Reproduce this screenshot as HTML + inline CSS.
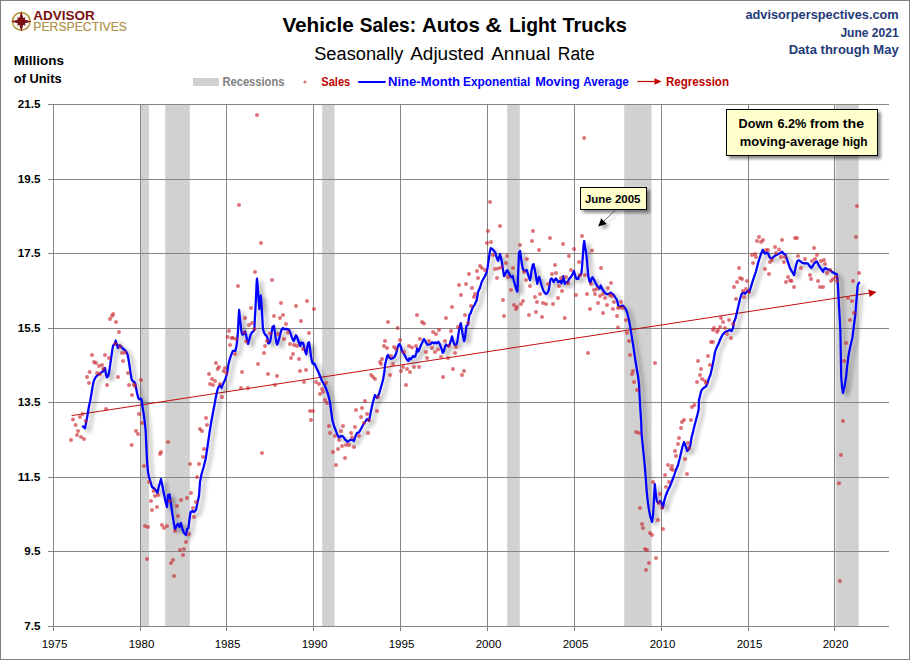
<!DOCTYPE html>
<html lang="en"><head><meta charset="utf-8"><title>Vehicle Sales: Autos &amp; Light Trucks</title>
<style>html,body{margin:0;padding:0;background:#fff}body{width:910px;height:660px;overflow:hidden}svg{display:block}text{font-family:"Liberation Sans",sans-serif;stroke-linejoin:round}</style></head><body>
<svg width="910" height="660" viewBox="0 0 910 660">
<defs><filter id="sh" x="-5%" y="-5%" width="112%" height="118%"><feGaussianBlur in="SourceAlpha" stdDeviation="2.1"/><feOffset dx="3.6" dy="2.6"/><feComponentTransfer><feFuncA type="linear" slope="0.37"/></feComponentTransfer><feMerge><feMergeNode/><feMergeNode in="SourceGraphic"/></feMerge></filter>
<filter id="bsh" x="-10%" y="-20%" width="125%" height="150%"><feGaussianBlur in="SourceAlpha" stdDeviation="1.8"/><feOffset dx="2.5" dy="2.5"/><feComponentTransfer><feFuncA type="linear" slope="0.44"/></feComponentTransfer><feMerge><feMergeNode/><feMergeNode in="SourceGraphic"/></feMerge></filter><filter id="ash" x="-30%" y="-30%" width="180%" height="180%"><feGaussianBlur in="SourceAlpha" stdDeviation="1.6"/><feOffset dx="2.5" dy="2.5"/><feComponentTransfer><feFuncA type="linear" slope="0.35"/></feComponentTransfer><feMerge><feMergeNode/><feMergeNode in="SourceGraphic"/></feMerge></filter></defs>
<rect x="0" y="0" width="910" height="660" fill="#fff"/>
<rect x="0.5" y="0.5" width="909" height="659" fill="none" stroke="#808080" stroke-width="1"/>
<g fill="#d1d1d1">
<rect x="141.0" y="105" width="8.0" height="521"/>
<rect x="165.2" y="105" width="24.6" height="521"/>
<rect x="322.2" y="105" width="12.4" height="521"/>
<rect x="507.2" y="105" width="12.6" height="521"/>
<rect x="624.2" y="105" width="27.4" height="521"/>
<rect x="835.6" y="105" width="23.1" height="521"/>
</g>
<g stroke="#868686" stroke-width="1" shape-rendering="crispEdges">
<line x1="48" x2="889" y1="104.5" y2="104.5"/>
<line x1="48" x2="889" y1="179.5" y2="179.5"/>
<line x1="48" x2="889" y1="253.5" y2="253.5"/>
<line x1="48" x2="889" y1="328.5" y2="328.5"/>
<line x1="48" x2="889" y1="402.5" y2="402.5"/>
<line x1="48" x2="889" y1="477.5" y2="477.5"/>
<line x1="48" x2="889" y1="551.5" y2="551.5"/>
<line x1="48" x2="889" y1="626.5" y2="626.5"/>
<line x1="53.5" x2="53.5" y1="104" y2="631"/>
<line x1="140.5" x2="140.5" y1="104" y2="631"/>
<line x1="226.5" x2="226.5" y1="104" y2="631"/>
<line x1="313.5" x2="313.5" y1="104" y2="631"/>
<line x1="400.5" x2="400.5" y1="104" y2="631"/>
<line x1="487.5" x2="487.5" y1="104" y2="631"/>
<line x1="574.5" x2="574.5" y1="104" y2="631"/>
<line x1="661.5" x2="661.5" y1="104" y2="631"/>
<line x1="748.5" x2="748.5" y1="104" y2="631"/>
<line x1="834.5" x2="834.5" y1="104" y2="631"/>
</g>
<line x1="71.6" y1="415.6" x2="869" y2="293.1" stroke="#c00000" stroke-width="0.95"/>
<path d="M876.5 292 L868.3 289.4 L869.7 297Z" fill="#c00000"/>
<path d="M83.0 426.4 L85.0 428.4 L87.0 418.0 L89.0 406.0 L90.4 400.1 L91.5 393.2 L92.6 386.6 L93.7 381.1 L95.2 377.9 L96.5 376.2 L98.1 374.8 L99.8 373.7 L101.4 372.4 L103.1 371.3 L104.4 368.0 L105.0 368.0 L105.8 373.5 L106.9 377.3 L108.0 376.2 L109.1 372.4 L110.2 364.7 L111.3 357.0 L112.4 349.3 L113.2 345.4 L114.6 344.3 L115.7 340.5 L116.8 344.3 L117.9 348.0 L119.0 345.4 L120.1 345.4 L121.5 346.9 L122.9 348.7 L124.5 349.8 L126.2 351.5 L127.5 354.2 L128.3 358.1 L129.2 363.6 L130.0 369.1 L130.8 374.6 L131.7 379.5 L132.8 381.1 L134.1 382.0 L135.2 383.4 L136.0 387.8 L137.1 393.2 L138.2 397.6 L139.3 399.3 L141.0 398.7 L141.8 400.1 L142.4 406.0 L144.0 416.0 L145.6 430.0 L147.0 460.0 L148.0 472.0 L149.0 477.0 L150.6 482.0 L152.0 487.0 L153.6 488.0 L155.6 490.0 L157.4 493.0 L159.0 486.0 L161.0 479.0 L162.4 486.0 L164.0 494.0 L165.6 502.0 L167.0 507.0 L168.0 495.0 L169.6 494.4 L171.0 504.0 L172.4 514.0 L174.0 524.0 L175.0 529.6 L176.4 526.0 L178.0 523.6 L179.4 527.0 L181.0 523.0 L182.4 529.0 L184.0 533.0 L186.0 535.0 L187.0 529.0 L188.4 528.0 L189.4 520.0 L190.6 512.0 L192.4 511.0 L194.0 512.0 L196.0 510.0 L197.4 503.0 L199.0 496.0 L200.0 482.0 L201.6 474.0 L203.6 467.0 L205.6 459.0 L207.6 446.0 L209.6 432.0 L211.6 420.0 L215.0 402.0 L216.4 394.0 L218.0 388.0 L220.0 385.0 L221.6 388.0 L223.0 384.0 L225.0 380.0 L227.0 374.0 L228.3 365.1 L229.4 360.4 L231.0 355.5 L232.7 351.1 L234.3 350.6 L235.4 351.1 L236.5 346.1 L237.3 339.6 L238.0 330.8 L238.5 319.8 L239.1 309.9 L239.8 316.5 L240.6 324.2 L241.5 331.9 L242.4 334.6 L243.7 334.1 L245.0 331.3 L246.1 335.2 L247.2 340.7 L248.1 344.0 L249.2 339.6 L250.5 335.2 L251.9 332.4 L253.3 331.3 L254.4 329.7 L254.7 321.6 L255.4 309.6 L256.1 295.3 L256.6 283.2 L257.0 278.6 L257.8 287.6 L258.5 298.6 L259.3 309.0 L260.2 303.0 L260.8 295.5 L261.5 303.0 L262.1 314.0 L262.6 322.8 L262.9 328.6 L264.0 332.4 L265.1 334.6 L266.5 335.7 L267.6 338.5 L268.1 343.4 L269.0 343.4 L270.1 341.8 L270.9 337.4 L271.7 331.9 L272.5 326.9 L273.9 325.8 L274.7 330.8 L275.6 337.4 L276.4 342.3 L277.2 344.5 L278.3 341.8 L279.4 337.4 L280.5 333.0 L281.6 329.7 L283.0 328.0 L284.3 329.1 L286.0 328.8 L287.6 329.1 L289.3 330.2 L290.4 333.0 L291.5 336.3 L292.6 339.0 L293.7 341.2 L294.8 338.5 L295.9 335.4 L297.0 336.8 L298.1 340.1 L299.2 343.4 L300.3 346.1 L301.0 342.3 L302.1 343.4 L303.2 342.9 L304.1 347.2 L305.2 351.6 L306.3 354.4 L307.2 348.4 L308.0 343.4 L309.1 342.3 L309.8 347.2 L310.7 353.9 L311.6 359.9 L312.7 363.7 L314.0 363.2 L315.3 365.1 L316.0 367.0 L318.4 372.0 L320.0 376.0 L322.0 381.0 L325.0 386.0 L328.0 394.0 L330.0 402.0 L331.0 410.0 L332.4 420.0 L334.0 426.0 L335.6 430.0 L337.0 434.0 L339.0 437.6 L341.0 436.0 L343.0 436.4 L345.0 439.4 L347.6 442.0 L350.0 440.0 L352.0 439.6 L354.0 441.0 L355.6 436.0 L357.0 433.0 L359.0 432.4 L361.0 429.0 L363.0 425.0 L365.0 422.0 L367.0 419.0 L369.0 421.0 L370.0 416.0 L371.6 408.0 L373.0 402.0 L375.0 395.0 L377.0 398.0 L379.0 394.0 L381.0 387.0 L383.0 380.0 L384.4 372.0 L385.0 365.1 L386.1 360.4 L387.2 356.0 L388.1 354.9 L389.4 357.7 L391.0 358.8 L392.7 358.2 L394.3 357.1 L396.0 353.9 L397.1 349.4 L398.2 345.6 L399.5 344.0 L400.6 346.1 L401.7 350.0 L403.1 352.8 L404.6 354.9 L405.9 357.7 L407.2 359.9 L408.3 361.0 L409.4 358.2 L410.8 359.3 L411.9 357.7 L413.0 356.0 L414.1 357.1 L415.2 356.6 L416.3 352.8 L417.1 348.4 L418.0 351.6 L419.1 350.0 L420.4 346.7 L421.8 343.4 L422.9 341.2 L424.0 339.0 L425.1 340.7 L426.2 342.9 L427.3 344.5 L429.0 344.5 L430.6 344.0 L432.2 342.3 L433.9 343.4 L435.3 342.3 L436.6 343.4 L438.3 341.8 L439.4 343.4 L440.5 346.1 L441.6 348.9 L442.7 352.8 L443.8 351.6 L444.9 347.2 L446.0 344.5 L447.1 345.6 L448.5 346.1 L449.8 344.0 L450.9 340.7 L452.0 336.3 L452.9 339.6 L454.0 344.0 L455.3 345.1 L456.6 344.0 L457.5 340.7 L458.4 334.1 L459.5 327.5 L460.8 323.1 L461.7 328.6 L462.8 335.2 L464.1 341.2 L465.0 337.4 L465.8 331.3 L466.5 325.8 L468.0 324.7 L468.7 319.2 L469.4 314.8 L470.7 313.2 L471.8 309.9 L472.9 307.1 L474.6 304.9 L475.7 302.2 L476.8 300.0 L478.0 292.0 L480.0 287.8 L481.6 282.2 L483.3 279.0 L484.9 276.2 L486.4 272.9 L487.5 268.0 L488.6 260.3 L489.7 252.6 L490.8 248.2 L492.1 248.7 L493.7 250.4 L495.2 252.6 L496.5 257.0 L498.1 260.8 L499.2 257.0 L500.0 254.2 L501.1 258.1 L502.2 264.1 L503.1 270.2 L504.0 276.2 L505.1 274.6 L506.4 271.3 L507.5 270.2 L508.8 272.9 L510.2 276.2 L511.3 277.3 L512.6 275.9 L513.9 281.1 L515.2 285.6 L516.5 289.9 L517.4 291.6 L517.9 279.0 L518.5 264.7 L519.0 252.6 L520.1 250.9 L520.9 257.0 L521.8 263.6 L522.9 269.1 L524.0 270.7 L525.3 271.0 L526.7 269.9 L527.8 273.5 L528.9 277.3 L530.0 280.1 L530.8 276.8 L531.6 270.2 L532.8 264.7 L533.5 264.1 L534.4 268.0 L535.5 273.5 L536.6 280.1 L537.4 283.9 L538.2 279.0 L539.1 276.8 L540.2 280.1 L541.3 284.4 L542.4 287.8 L543.5 291.0 L544.8 292.7 L545.9 294.1 L547.2 293.2 L548.7 290.5 L549.5 285.6 L550.3 280.1 L551.4 278.4 L552.5 279.5 L553.6 282.2 L554.7 280.1 L555.8 278.4 L556.9 279.8 L558.2 282.2 L559.3 281.7 L560.4 280.6 L561.5 283.4 L562.4 280.1 L563.2 276.2 L564.1 280.1 L564.8 283.9 L565.9 282.2 L567.4 282.8 L568.5 280.1 L569.6 278.4 L570.7 277.3 L571.8 275.7 L572.9 273.5 L574.0 271.0 L574.7 273.5 L575.6 277.3 L576.7 279.0 L578.4 278.7 L578.7 276.7 L580.2 275.1 L581.3 274.0 L582.0 267.4 L582.8 256.4 L583.5 246.5 L584.2 241.0 L585.0 246.5 L585.9 251.4 L586.8 258.6 L587.5 267.4 L588.3 276.1 L589.4 281.1 L590.5 282.8 L591.6 278.4 L592.5 277.2 L593.8 279.4 L595.2 282.2 L596.6 284.9 L598.0 287.1 L599.6 288.8 L600.7 285.5 L601.8 288.2 L603.5 291.0 L605.1 293.2 L607.3 294.3 L609.0 293.7 L610.6 292.6 L612.2 293.7 L613.9 295.1 L615.0 297.0 L617.0 300.0 L618.4 306.0 L620.4 306.4 L623.0 305.6 L625.0 308.0 L627.0 312.0 L629.0 320.0 L630.4 328.0 L632.0 338.0 L633.6 348.0 L635.0 358.0 L636.6 368.0 L638.0 376.0 L639.0 384.0 L639.6 396.0 L640.4 410.0 L641.2 422.0 L641.6 434.0 L643.0 448.0 L644.4 462.0 L645.6 476.0 L646.6 490.0 L647.6 500.0 L649.0 510.0 L650.4 517.0 L652.0 522.0 L653.2 514.0 L654.0 498.0 L654.8 484.0 L655.6 492.0 L656.8 501.0 L658.0 503.0 L660.0 501.0 L661.6 503.0 L662.8 508.0 L664.0 502.0 L665.6 496.0 L667.6 491.0 L669.6 487.0 L671.6 482.0 L673.6 477.0 L676.0 470.0 L678.0 465.0 L679.6 459.0 L681.0 453.0 L682.4 447.0 L684.0 442.0 L685.6 446.0 L687.2 451.0 L689.0 449.0 L690.4 445.0 L691.6 437.0 L693.0 432.0 L694.4 426.0 L696.0 420.0 L697.6 414.0 L698.6 410.0 L699.0 400.0 L700.4 394.0 L701.6 390.0 L703.6 388.0 L706.0 386.4 L707.6 383.0 L709.0 378.0 L710.4 375.0 L712.0 368.0 L713.6 360.0 L715.0 352.0 L716.4 348.0 L718.4 344.0 L720.4 339.0 L722.4 335.0 L725.0 332.0 L727.6 331.0 L729.6 330.0 L731.6 331.0 L733.0 328.0 L734.0 322.0 L735.6 318.0 L737.0 312.0 L738.4 306.0 L740.0 299.0 L741.6 294.0 L743.6 292.4 L745.0 293.8 L746.6 292.1 L748.1 290.5 L749.4 292.1 L751.0 286.6 L752.7 281.1 L754.3 276.2 L756.0 271.3 L757.1 266.9 L758.4 261.9 L759.8 257.5 L761.3 253.1 L762.8 249.8 L763.9 252.0 L765.1 253.7 L766.4 252.6 L767.9 253.1 L769.2 256.4 L770.8 258.6 L772.5 258.1 L774.1 256.4 L775.8 255.3 L778.0 254.2 L780.2 253.1 L782.1 251.7 L783.5 253.7 L785.1 254.2 L786.2 257.0 L787.9 261.9 L789.5 266.9 L791.1 270.2 L792.8 272.9 L794.1 275.1 L795.0 270.2 L796.1 265.2 L797.5 260.8 L798.9 260.3 L800.5 261.4 L802.1 262.7 L804.3 263.4 L806.5 263.2 L808.2 263.8 L809.8 266.3 L811.3 268.0 L812.6 266.3 L814.2 263.4 L815.9 261.9 L817.0 261.4 L818.1 264.1 L819.7 266.9 L821.4 269.1 L823.0 271.8 L824.1 269.1 L825.4 268.0 L826.9 269.1 L828.5 269.6 L830.2 269.9 L831.8 271.8 L833.5 272.9 L835.1 273.5 L836.8 274.3 L837.5 279.0 L838.0 286.6 L838.4 294.3 L838.7 300.1 L839.6 316.0 L840.4 332.0 L841.2 376.0 L842.0 387.0 L843.0 393.0 L844.4 387.0 L846.0 378.0 L847.2 366.0 L848.6 355.0 L850.4 346.0 L852.4 338.0 L853.6 328.0 L854.6 320.0 L855.2 316.0 L856.0 306.0 L856.8 296.0 L857.6 286.0 L858.4 283.6 L859.2 282.6" fill="none" stroke="#0000ff" stroke-width="2.25" stroke-linejoin="round" stroke-linecap="round" filter="url(#sh)"/>
<g fill="#c81e28" fill-opacity="0.62">
<circle cx="73.0" cy="419.6" r="2"/>
<circle cx="75.6" cy="425.0" r="2"/>
<circle cx="80.0" cy="417.0" r="2"/>
<circle cx="82.6" cy="414.0" r="2"/>
<circle cx="85.6" cy="421.0" r="2"/>
<circle cx="78.0" cy="431.0" r="2"/>
<circle cx="87.0" cy="377.0" r="2"/>
<circle cx="89.0" cy="383.0" r="2"/>
<circle cx="89.6" cy="372.0" r="2"/>
<circle cx="92.0" cy="355.0" r="2"/>
<circle cx="94.0" cy="362.0" r="2"/>
<circle cx="96.0" cy="363.0" r="2"/>
<circle cx="97.0" cy="373.0" r="2"/>
<circle cx="99.0" cy="366.0" r="2"/>
<circle cx="100.0" cy="374.0" r="2"/>
<circle cx="102.0" cy="365.0" r="2"/>
<circle cx="105.0" cy="355.0" r="2"/>
<circle cx="107.0" cy="385.0" r="2"/>
<circle cx="109.0" cy="358.0" r="2"/>
<circle cx="106.0" cy="409.0" r="2"/>
<circle cx="110.0" cy="319.0" r="2"/>
<circle cx="112.0" cy="316.0" r="2"/>
<circle cx="113.2" cy="314.0" r="2"/>
<circle cx="116.0" cy="322.0" r="2"/>
<circle cx="119.0" cy="332.0" r="2"/>
<circle cx="118.0" cy="377.0" r="2"/>
<circle cx="120.0" cy="346.4" r="2"/>
<circle cx="122.0" cy="353.0" r="2"/>
<circle cx="123.0" cy="361.0" r="2"/>
<circle cx="125.0" cy="352.4" r="2"/>
<circle cx="128.0" cy="373.0" r="2"/>
<circle cx="129.0" cy="385.0" r="2"/>
<circle cx="132.0" cy="395.0" r="2"/>
<circle cx="135.0" cy="386.0" r="2"/>
<circle cx="139.0" cy="414.0" r="2"/>
<circle cx="141.0" cy="380.0" r="2"/>
<circle cx="142.0" cy="423.0" r="2"/>
<circle cx="136.0" cy="431.0" r="2"/>
<circle cx="200.0" cy="429.0" r="2"/>
<circle cx="206.0" cy="418.0" r="2"/>
<circle cx="207.0" cy="425.0" r="2"/>
<circle cx="209.0" cy="374.0" r="2"/>
<circle cx="210.0" cy="384.0" r="2"/>
<circle cx="212.0" cy="379.0" r="2"/>
<circle cx="213.0" cy="385.0" r="2"/>
<circle cx="215.0" cy="381.0" r="2"/>
<circle cx="216.0" cy="363.0" r="2"/>
<circle cx="217.6" cy="369.0" r="2"/>
<circle cx="219.0" cy="367.0" r="2"/>
<circle cx="220.0" cy="384.0" r="2"/>
<circle cx="222.0" cy="397.0" r="2"/>
<circle cx="223.6" cy="371.0" r="2"/>
<circle cx="225.0" cy="368.0" r="2"/>
<circle cx="226.4" cy="373.0" r="2"/>
<circle cx="227.6" cy="337.0" r="2"/>
<circle cx="229.0" cy="331.0" r="2"/>
<circle cx="230.0" cy="345.0" r="2"/>
<circle cx="231.6" cy="338.0" r="2"/>
<circle cx="138.0" cy="434.0" r="2"/>
<circle cx="131.6" cy="445.0" r="2"/>
<circle cx="144.0" cy="466.0" r="2"/>
<circle cx="149.0" cy="482.0" r="2"/>
<circle cx="153.6" cy="491.0" r="2"/>
<circle cx="155.0" cy="496.0" r="2"/>
<circle cx="158.0" cy="495.0" r="2"/>
<circle cx="151.0" cy="501.0" r="2"/>
<circle cx="157.0" cy="507.0" r="2"/>
<circle cx="152.0" cy="510.0" r="2"/>
<circle cx="145.0" cy="526.0" r="2"/>
<circle cx="148.0" cy="527.0" r="2"/>
<circle cx="162.0" cy="525.0" r="2"/>
<circle cx="164.0" cy="528.0" r="2"/>
<circle cx="167.0" cy="526.0" r="2"/>
<circle cx="160.0" cy="454.0" r="2"/>
<circle cx="161.0" cy="452.0" r="2"/>
<circle cx="168.0" cy="442.0" r="2"/>
<circle cx="170.0" cy="501.0" r="2"/>
<circle cx="177.0" cy="506.0" r="2"/>
<circle cx="181.0" cy="500.0" r="2"/>
<circle cx="187.0" cy="498.0" r="2"/>
<circle cx="191.0" cy="493.0" r="2"/>
<circle cx="178.0" cy="516.0" r="2"/>
<circle cx="175.0" cy="531.0" r="2"/>
<circle cx="189.0" cy="534.0" r="2"/>
<circle cx="186.0" cy="542.0" r="2"/>
<circle cx="180.0" cy="550.0" r="2"/>
<circle cx="184.0" cy="549.0" r="2"/>
<circle cx="190.0" cy="464.0" r="2"/>
<circle cx="199.0" cy="464.0" r="2"/>
<circle cx="197.0" cy="477.0" r="2"/>
<circle cx="196.0" cy="502.0" r="2"/>
<circle cx="193.0" cy="508.0" r="2"/>
<circle cx="194.0" cy="517.0" r="2"/>
<circle cx="203.0" cy="457.0" r="2"/>
<circle cx="204.0" cy="449.0" r="2"/>
<circle cx="202.0" cy="431.0" r="2"/>
<circle cx="262.0" cy="453.0" r="2"/>
<circle cx="311.0" cy="420.0" r="2"/>
<circle cx="147.0" cy="559.0" r="2"/>
<circle cx="171.0" cy="563.0" r="2"/>
<circle cx="173.0" cy="560.0" r="2"/>
<circle cx="174.0" cy="576.0" r="2"/>
<circle cx="183.0" cy="555.0" r="2"/>
<circle cx="255.0" cy="272.0" r="2"/>
<circle cx="272.0" cy="280.0" r="2"/>
<circle cx="238.0" cy="286.0" r="2"/>
<circle cx="251.0" cy="308.0" r="2"/>
<circle cx="245.0" cy="318.0" r="2"/>
<circle cx="249.0" cy="325.0" r="2"/>
<circle cx="252.0" cy="323.0" r="2"/>
<circle cx="254.4" cy="329.0" r="2"/>
<circle cx="233.0" cy="338.0" r="2"/>
<circle cx="236.0" cy="339.0" r="2"/>
<circle cx="235.0" cy="354.0" r="2"/>
<circle cx="241.0" cy="388.0" r="2"/>
<circle cx="248.0" cy="388.0" r="2"/>
<circle cx="242.0" cy="372.0" r="2"/>
<circle cx="258.0" cy="364.0" r="2"/>
<circle cx="246.0" cy="341.6" r="2"/>
<circle cx="244.0" cy="332.4" r="2"/>
<circle cx="264.0" cy="353.0" r="2"/>
<circle cx="265.0" cy="346.0" r="2"/>
<circle cx="267.0" cy="341.0" r="2"/>
<circle cx="270.0" cy="333.6" r="2"/>
<circle cx="268.0" cy="374.0" r="2"/>
<circle cx="277.0" cy="376.0" r="2"/>
<circle cx="275.0" cy="385.0" r="2"/>
<circle cx="278.0" cy="334.0" r="2"/>
<circle cx="284.0" cy="339.0" r="2"/>
<circle cx="281.0" cy="303.0" r="2"/>
<circle cx="274.0" cy="316.0" r="2"/>
<circle cx="280.0" cy="318.0" r="2"/>
<circle cx="283.0" cy="315.0" r="2"/>
<circle cx="286.0" cy="324.0" r="2"/>
<circle cx="288.0" cy="332.4" r="2"/>
<circle cx="290.0" cy="344.0" r="2"/>
<circle cx="294.0" cy="345.0" r="2"/>
<circle cx="297.0" cy="346.0" r="2"/>
<circle cx="293.0" cy="354.0" r="2"/>
<circle cx="291.0" cy="358.0" r="2"/>
<circle cx="299.0" cy="359.0" r="2"/>
<circle cx="296.0" cy="306.0" r="2"/>
<circle cx="307.0" cy="301.0" r="2"/>
<circle cx="301.0" cy="321.0" r="2"/>
<circle cx="314.0" cy="309.0" r="2"/>
<circle cx="309.0" cy="333.0" r="2"/>
<circle cx="303.0" cy="349.0" r="2"/>
<circle cx="300.0" cy="371.0" r="2"/>
<circle cx="306.0" cy="370.0" r="2"/>
<circle cx="304.0" cy="382.0" r="2"/>
<circle cx="316.0" cy="382.0" r="2"/>
<circle cx="319.0" cy="384.0" r="2"/>
<circle cx="322.0" cy="389.0" r="2"/>
<circle cx="320.0" cy="394.0" r="2"/>
<circle cx="323.0" cy="392.0" r="2"/>
<circle cx="326.0" cy="383.0" r="2"/>
<circle cx="325.0" cy="400.0" r="2"/>
<circle cx="371.0" cy="375.0" r="2"/>
<circle cx="373.0" cy="377.0" r="2"/>
<circle cx="375.0" cy="379.0" r="2"/>
<circle cx="380.0" cy="362.0" r="2"/>
<circle cx="382.0" cy="359.0" r="2"/>
<circle cx="365.0" cy="401.0" r="2"/>
<circle cx="327.0" cy="403.0" r="2"/>
<circle cx="310.0" cy="411.0" r="2"/>
<circle cx="313.0" cy="411.0" r="2"/>
<circle cx="329.0" cy="426.0" r="2"/>
<circle cx="330.0" cy="433.0" r="2"/>
<circle cx="335.0" cy="436.0" r="2"/>
<circle cx="339.0" cy="440.0" r="2"/>
<circle cx="343.0" cy="426.0" r="2"/>
<circle cx="341.0" cy="431.0" r="2"/>
<circle cx="338.0" cy="449.0" r="2"/>
<circle cx="333.0" cy="452.0" r="2"/>
<circle cx="342.0" cy="446.0" r="2"/>
<circle cx="346.0" cy="445.0" r="2"/>
<circle cx="349.0" cy="445.0" r="2"/>
<circle cx="354.0" cy="447.0" r="2"/>
<circle cx="345.0" cy="458.0" r="2"/>
<circle cx="336.0" cy="465.0" r="2"/>
<circle cx="351.0" cy="433.0" r="2"/>
<circle cx="352.0" cy="437.6" r="2"/>
<circle cx="355.0" cy="427.0" r="2"/>
<circle cx="359.0" cy="436.0" r="2"/>
<circle cx="368.0" cy="433.0" r="2"/>
<circle cx="361.0" cy="417.0" r="2"/>
<circle cx="364.0" cy="423.0" r="2"/>
<circle cx="369.0" cy="420.0" r="2"/>
<circle cx="367.0" cy="414.0" r="2"/>
<circle cx="362.0" cy="408.0" r="2"/>
<circle cx="356.0" cy="410.0" r="2"/>
<circle cx="377.0" cy="411.0" r="2"/>
<circle cx="378.0" cy="397.0" r="2"/>
<circle cx="381.0" cy="364.0" r="2"/>
<circle cx="384.0" cy="346.0" r="2"/>
<circle cx="387.0" cy="348.0" r="2"/>
<circle cx="385.0" cy="341.0" r="2"/>
<circle cx="390.0" cy="375.0" r="2"/>
<circle cx="391.0" cy="356.0" r="2"/>
<circle cx="393.0" cy="364.0" r="2"/>
<circle cx="394.0" cy="347.0" r="2"/>
<circle cx="396.0" cy="349.0" r="2"/>
<circle cx="400.0" cy="340.0" r="2"/>
<circle cx="404.0" cy="352.0" r="2"/>
<circle cx="401.0" cy="371.0" r="2"/>
<circle cx="403.0" cy="367.0" r="2"/>
<circle cx="407.0" cy="369.0" r="2"/>
<circle cx="410.0" cy="372.0" r="2"/>
<circle cx="406.0" cy="385.0" r="2"/>
<circle cx="414.0" cy="367.0" r="2"/>
<circle cx="419.0" cy="367.0" r="2"/>
<circle cx="409.0" cy="346.0" r="2"/>
<circle cx="412.0" cy="347.6" r="2"/>
<circle cx="416.0" cy="346.0" r="2"/>
<circle cx="426.0" cy="352.0" r="2"/>
<circle cx="427.0" cy="358.0" r="2"/>
<circle cx="432.0" cy="348.0" r="2"/>
<circle cx="435.0" cy="352.0" r="2"/>
<circle cx="438.0" cy="349.6" r="2"/>
<circle cx="441.0" cy="357.0" r="2"/>
<circle cx="448.0" cy="358.0" r="2"/>
<circle cx="455.0" cy="353.0" r="2"/>
<circle cx="456.0" cy="347.0" r="2"/>
<circle cx="453.0" cy="369.0" r="2"/>
<circle cx="443.0" cy="377.0" r="2"/>
<circle cx="462.0" cy="375.0" r="2"/>
<circle cx="464.0" cy="371.0" r="2"/>
<circle cx="449.0" cy="346.0" r="2"/>
<circle cx="445.0" cy="341.0" r="2"/>
<circle cx="429.0" cy="341.0" r="2"/>
<circle cx="388.0" cy="322.0" r="2"/>
<circle cx="397.6" cy="328.0" r="2"/>
<circle cx="420.0" cy="339.0" r="2"/>
<circle cx="417.0" cy="315.0" r="2"/>
<circle cx="422.0" cy="322.0" r="2"/>
<circle cx="424.0" cy="323.6" r="2"/>
<circle cx="433.0" cy="332.0" r="2"/>
<circle cx="436.0" cy="334.0" r="2"/>
<circle cx="439.0" cy="330.0" r="2"/>
<circle cx="446.0" cy="318.0" r="2"/>
<circle cx="452.0" cy="307.0" r="2"/>
<circle cx="451.0" cy="331.0" r="2"/>
<circle cx="458.0" cy="327.0" r="2"/>
<circle cx="468.0" cy="323.0" r="2"/>
<circle cx="465.0" cy="315.0" r="2"/>
<circle cx="471.0" cy="306.0" r="2"/>
<circle cx="474.0" cy="297.0" r="2"/>
<circle cx="475.0" cy="294.0" r="2"/>
<circle cx="461.0" cy="295.0" r="2"/>
<circle cx="459.0" cy="285.0" r="2"/>
<circle cx="466.0" cy="284.0" r="2"/>
<circle cx="472.0" cy="288.0" r="2"/>
<circle cx="478.0" cy="278.0" r="2"/>
<circle cx="469.0" cy="274.0" r="2"/>
<circle cx="477.0" cy="271.0" r="2"/>
<circle cx="485.0" cy="270.0" r="2"/>
<circle cx="497.0" cy="278.0" r="2"/>
<circle cx="508.0" cy="277.0" r="2"/>
<circle cx="511.0" cy="290.0" r="2"/>
<circle cx="503.0" cy="300.0" r="2"/>
<circle cx="504.0" cy="316.0" r="2"/>
<circle cx="514.0" cy="305.0" r="2"/>
<circle cx="517.0" cy="307.0" r="2"/>
<circle cx="516.0" cy="309.0" r="2"/>
<circle cx="521.0" cy="304.0" r="2"/>
<circle cx="523.0" cy="301.0" r="2"/>
<circle cx="529.0" cy="315.0" r="2"/>
<circle cx="536.0" cy="312.0" r="2"/>
<circle cx="542.0" cy="317.0" r="2"/>
<circle cx="526.0" cy="280.0" r="2"/>
<circle cx="530.0" cy="286.0" r="2"/>
<circle cx="535.0" cy="297.0" r="2"/>
<circle cx="537.0" cy="302.0" r="2"/>
<circle cx="540.0" cy="294.0" r="2"/>
<circle cx="543.0" cy="303.0" r="2"/>
<circle cx="546.0" cy="304.0" r="2"/>
<circle cx="553.0" cy="304.0" r="2"/>
<circle cx="558.0" cy="298.0" r="2"/>
<circle cx="548.0" cy="284.0" r="2"/>
<circle cx="552.0" cy="274.0" r="2"/>
<circle cx="556.0" cy="273.0" r="2"/>
<circle cx="559.0" cy="286.0" r="2"/>
<circle cx="490.0" cy="202.0" r="2"/>
<circle cx="500.0" cy="226.0" r="2"/>
<circle cx="488.0" cy="231.0" r="2"/>
<circle cx="487.0" cy="243.0" r="2"/>
<circle cx="491.0" cy="242.0" r="2"/>
<circle cx="493.0" cy="255.0" r="2"/>
<circle cx="507.0" cy="256.0" r="2"/>
<circle cx="506.0" cy="263.0" r="2"/>
<circle cx="513.0" cy="268.0" r="2"/>
<circle cx="480.0" cy="266.0" r="2"/>
<circle cx="482.0" cy="268.0" r="2"/>
<circle cx="495.0" cy="269.0" r="2"/>
<circle cx="498.0" cy="268.4" r="2"/>
<circle cx="501.0" cy="267.6" r="2"/>
<circle cx="520.0" cy="245.0" r="2"/>
<circle cx="532.0" cy="241.0" r="2"/>
<circle cx="533.0" cy="231.0" r="2"/>
<circle cx="527.0" cy="259.0" r="2"/>
<circle cx="524.0" cy="272.0" r="2"/>
<circle cx="539.0" cy="250.0" r="2"/>
<circle cx="550.0" cy="238.0" r="2"/>
<circle cx="555.0" cy="265.0" r="2"/>
<circle cx="562.0" cy="291.0" r="2"/>
<circle cx="561.0" cy="278.0" r="2"/>
<circle cx="566.0" cy="277.0" r="2"/>
<circle cx="568.0" cy="283.0" r="2"/>
<circle cx="563.0" cy="244.0" r="2"/>
<circle cx="569.0" cy="256.0" r="2"/>
<circle cx="571.0" cy="270.0" r="2"/>
<circle cx="574.0" cy="249.0" r="2"/>
<circle cx="579.0" cy="262.0" r="2"/>
<circle cx="582.0" cy="236.0" r="2"/>
<circle cx="592.0" cy="250.6" r="2"/>
<circle cx="601.0" cy="268.0" r="2"/>
<circle cx="580.0" cy="275.0" r="2"/>
<circle cx="585.0" cy="275.0" r="2"/>
<circle cx="576.0" cy="295.0" r="2"/>
<circle cx="587.0" cy="294.0" r="2"/>
<circle cx="591.0" cy="284.0" r="2"/>
<circle cx="594.0" cy="290.0" r="2"/>
<circle cx="595.0" cy="294.0" r="2"/>
<circle cx="597.0" cy="289.0" r="2"/>
<circle cx="600.0" cy="296.0" r="2"/>
<circle cx="603.0" cy="294.0" r="2"/>
<circle cx="605.0" cy="298.0" r="2"/>
<circle cx="608.0" cy="288.0" r="2"/>
<circle cx="611.0" cy="283.0" r="2"/>
<circle cx="598.0" cy="303.0" r="2"/>
<circle cx="590.0" cy="309.0" r="2"/>
<circle cx="607.0" cy="305.0" r="2"/>
<circle cx="612.0" cy="296.0" r="2"/>
<circle cx="614.0" cy="302.0" r="2"/>
<circle cx="618.0" cy="308.0" r="2"/>
<circle cx="621.0" cy="302.0" r="2"/>
<circle cx="613.0" cy="309.0" r="2"/>
<circle cx="610.0" cy="295.0" r="2"/>
<circle cx="603.0" cy="313.0" r="2"/>
<circle cx="620.0" cy="307.6" r="2"/>
<circle cx="623.0" cy="308.0" r="2"/>
<circle cx="617.0" cy="316.0" r="2"/>
<circle cx="626.0" cy="320.0" r="2"/>
<circle cx="618.0" cy="327.6" r="2"/>
<circle cx="627.0" cy="333.0" r="2"/>
<circle cx="629.0" cy="341.0" r="2"/>
<circle cx="588.0" cy="353.0" r="2"/>
<circle cx="630.0" cy="355.0" r="2"/>
<circle cx="633.0" cy="371.0" r="2"/>
<circle cx="632.0" cy="374.0" r="2"/>
<circle cx="634.0" cy="382.0" r="2"/>
<circle cx="637.0" cy="390.0" r="2"/>
<circle cx="655.0" cy="363.0" r="2"/>
<circle cx="684.0" cy="420.0" r="2"/>
<circle cx="691.0" cy="420.0" r="2"/>
<circle cx="692.0" cy="407.0" r="2"/>
<circle cx="694.4" cy="405.0" r="2"/>
<circle cx="697.0" cy="382.0" r="2"/>
<circle cx="698.0" cy="361.0" r="2"/>
<circle cx="701.0" cy="369.0" r="2"/>
<circle cx="700.0" cy="375.0" r="2"/>
<circle cx="702.0" cy="379.0" r="2"/>
<circle cx="705.0" cy="381.0" r="2"/>
<circle cx="706.0" cy="383.0" r="2"/>
<circle cx="708.0" cy="356.0" r="2"/>
<circle cx="710.0" cy="365.0" r="2"/>
<circle cx="711.0" cy="342.0" r="2"/>
<circle cx="713.0" cy="342.0" r="2"/>
<circle cx="714.0" cy="328.0" r="2"/>
<circle cx="717.0" cy="332.0" r="2"/>
<circle cx="718.0" cy="330.0" r="2"/>
<circle cx="720.0" cy="327.0" r="2"/>
<circle cx="721.0" cy="318.0" r="2"/>
<circle cx="723.0" cy="322.0" r="2"/>
<circle cx="725.0" cy="328.0" r="2"/>
<circle cx="729.0" cy="320.0" r="2"/>
<circle cx="727.0" cy="334.0" r="2"/>
<circle cx="731.0" cy="338.0" r="2"/>
<circle cx="733.0" cy="324.0" r="2"/>
<circle cx="736.0" cy="299.0" r="2"/>
<circle cx="744.0" cy="297.0" r="2"/>
<circle cx="743.0" cy="291.0" r="2"/>
<circle cx="749.0" cy="292.0" r="2"/>
<circle cx="636.0" cy="432.0" r="2"/>
<circle cx="639.0" cy="433.0" r="2"/>
<circle cx="640.0" cy="508.0" r="2"/>
<circle cx="642.0" cy="524.0" r="2"/>
<circle cx="643.0" cy="528.0" r="2"/>
<circle cx="650.0" cy="533.0" r="2"/>
<circle cx="652.0" cy="535.0" r="2"/>
<circle cx="653.0" cy="482.0" r="2"/>
<circle cx="660.0" cy="494.0" r="2"/>
<circle cx="659.0" cy="503.0" r="2"/>
<circle cx="662.0" cy="507.6" r="2"/>
<circle cx="658.0" cy="520.0" r="2"/>
<circle cx="663.0" cy="529.0" r="2"/>
<circle cx="665.0" cy="475.0" r="2"/>
<circle cx="669.0" cy="482.0" r="2"/>
<circle cx="666.0" cy="487.0" r="2"/>
<circle cx="668.0" cy="465.0" r="2"/>
<circle cx="672.0" cy="466.0" r="2"/>
<circle cx="671.0" cy="469.0" r="2"/>
<circle cx="673.0" cy="470.0" r="2"/>
<circle cx="675.0" cy="451.0" r="2"/>
<circle cx="676.0" cy="456.0" r="2"/>
<circle cx="678.0" cy="444.0" r="2"/>
<circle cx="679.0" cy="438.0" r="2"/>
<circle cx="681.0" cy="428.0" r="2"/>
<circle cx="682.0" cy="422.0" r="2"/>
<circle cx="688.0" cy="443.0" r="2"/>
<circle cx="689.0" cy="448.0" r="2"/>
<circle cx="685.0" cy="459.0" r="2"/>
<circle cx="687.0" cy="474.0" r="2"/>
<circle cx="645.0" cy="549.0" r="2"/>
<circle cx="647.0" cy="550.0" r="2"/>
<circle cx="656.0" cy="558.0" r="2"/>
<circle cx="649.0" cy="563.0" r="2"/>
<circle cx="646.0" cy="570.0" r="2"/>
<circle cx="857.0" cy="206.0" r="2"/>
<circle cx="856.0" cy="237.0" r="2"/>
<circle cx="859.0" cy="273.0" r="2"/>
<circle cx="853.0" cy="281.0" r="2"/>
<circle cx="848.0" cy="298.0" r="2"/>
<circle cx="852.0" cy="301.0" r="2"/>
<circle cx="854.0" cy="313.0" r="2"/>
<circle cx="850.0" cy="320.0" r="2"/>
<circle cx="759.0" cy="237.0" r="2"/>
<circle cx="757.0" cy="241.0" r="2"/>
<circle cx="761.0" cy="242.0" r="2"/>
<circle cx="763.0" cy="240.0" r="2"/>
<circle cx="782.0" cy="240.0" r="2"/>
<circle cx="795.0" cy="238.0" r="2"/>
<circle cx="797.0" cy="238.0" r="2"/>
<circle cx="814.0" cy="248.0" r="2"/>
<circle cx="775.0" cy="247.0" r="2"/>
<circle cx="779.0" cy="249.6" r="2"/>
<circle cx="768.0" cy="250.0" r="2"/>
<circle cx="766.0" cy="250.0" r="2"/>
<circle cx="752.0" cy="255.0" r="2"/>
<circle cx="755.0" cy="254.0" r="2"/>
<circle cx="756.0" cy="257.0" r="2"/>
<circle cx="753.0" cy="263.0" r="2"/>
<circle cx="770.0" cy="262.0" r="2"/>
<circle cx="772.0" cy="260.0" r="2"/>
<circle cx="776.0" cy="253.0" r="2"/>
<circle cx="781.0" cy="257.0" r="2"/>
<circle cx="785.0" cy="257.0" r="2"/>
<circle cx="784.0" cy="262.0" r="2"/>
<circle cx="798.0" cy="256.0" r="2"/>
<circle cx="805.0" cy="259.0" r="2"/>
<circle cx="812.0" cy="261.0" r="2"/>
<circle cx="815.0" cy="259.0" r="2"/>
<circle cx="817.0" cy="255.0" r="2"/>
<circle cx="821.0" cy="261.0" r="2"/>
<circle cx="824.0" cy="260.0" r="2"/>
<circle cx="825.0" cy="264.0" r="2"/>
<circle cx="739.0" cy="268.0" r="2"/>
<circle cx="765.0" cy="269.0" r="2"/>
<circle cx="769.0" cy="274.0" r="2"/>
<circle cx="740.0" cy="278.0" r="2"/>
<circle cx="742.0" cy="279.0" r="2"/>
<circle cx="747.0" cy="281.0" r="2"/>
<circle cx="737.0" cy="282.0" r="2"/>
<circle cx="734.0" cy="287.0" r="2"/>
<circle cx="746.0" cy="289.0" r="2"/>
<circle cx="788.0" cy="277.0" r="2"/>
<circle cx="786.0" cy="282.0" r="2"/>
<circle cx="790.0" cy="280.4" r="2"/>
<circle cx="791.6" cy="281.0" r="2"/>
<circle cx="794.0" cy="287.0" r="2"/>
<circle cx="801.0" cy="268.0" r="2"/>
<circle cx="810.0" cy="275.0" r="2"/>
<circle cx="811.0" cy="279.0" r="2"/>
<circle cx="818.0" cy="281.0" r="2"/>
<circle cx="820.0" cy="287.0" r="2"/>
<circle cx="823.0" cy="287.0" r="2"/>
<circle cx="827.0" cy="273.0" r="2"/>
<circle cx="830.0" cy="270.0" r="2"/>
<circle cx="831.0" cy="281.0" r="2"/>
<circle cx="833.0" cy="279.0" r="2"/>
<circle cx="836.0" cy="277.0" r="2"/>
<circle cx="837.0" cy="281.0" r="2"/>
<circle cx="713.0" cy="330.0" r="2"/>
<circle cx="846.0" cy="343.0" r="2"/>
<circle cx="844.0" cy="361.0" r="2"/>
<circle cx="843.0" cy="421.0" r="2"/>
<circle cx="257.0" cy="115.0" r="2"/>
<circle cx="239.0" cy="205.0" r="2"/>
<circle cx="261.0" cy="243.0" r="2"/>
<circle cx="584.1" cy="138.0" r="2"/>
<circle cx="77.0" cy="435.0" r="2"/>
<circle cx="81.0" cy="437.0" r="2"/>
<circle cx="84.0" cy="439.0" r="2"/>
<circle cx="71.0" cy="440.0" r="2"/>
<circle cx="564.8" cy="318.0" r="2"/>
<circle cx="840.9" cy="455.0" r="2"/>
<circle cx="839.0" cy="483.2" r="2"/>
<circle cx="839.9" cy="581.1" r="2"/>
<circle cx="115.2" cy="343.8" r="2"/>
<circle cx="103.1" cy="369.1" r="2"/>
<circle cx="133.8" cy="384.5" r="2"/>
</g>
<g filter="url(#bsh)"><rect x="726.5" y="109.5" width="151" height="46" fill="#ffffcc" stroke="#000" stroke-width="1"/></g>
<text x="738.6" y="127.8" font-size="13.1" fill="#000" font-weight="bold" textLength="34.4" lengthAdjust="spacingAndGlyphs">Down</text>
<text x="777.4" y="127.8" font-size="13.1" fill="#000" font-weight="bold" textLength="28.9" lengthAdjust="spacingAndGlyphs">6.2%</text>
<text x="810.1" y="127.8" font-size="13.1" fill="#000" font-weight="bold" textLength="29.2" lengthAdjust="spacingAndGlyphs">from</text>
<text x="842.8" y="127.8" font-size="13.1" fill="#000" font-weight="bold" textLength="21.2" lengthAdjust="spacingAndGlyphs">the</text>
<text x="739.8" y="145.5" font-size="13.1" fill="#000" font-weight="bold" textLength="99.2" lengthAdjust="spacingAndGlyphs">moving-average</text>
<text x="842.4" y="145.5" font-size="13.1" fill="#000" font-weight="bold" textLength="25.2" lengthAdjust="spacingAndGlyphs">high</text>
<g filter="url(#bsh)"><rect x="580.5" y="187.5" width="66" height="22" fill="#ffffcc" stroke="#000" stroke-width="1"/></g>
<text x="612.7" y="202.5" font-size="10.4" fill="#000" text-anchor="middle" font-weight="bold" textLength="55.4" lengthAdjust="spacingAndGlyphs">June 2005</text>
<g filter="url(#ash)"><line x1="615" y1="210.5" x2="603.5" y2="221.5" stroke="#3a3a3a" stroke-width="0.8"/><path d="M598.2 226.5 L601.2 218.3 L606.6 224Z" fill="#000"/></g>
<text x="282.4" y="32.2" font-size="20" fill="#000" font-weight="bold" textLength="71.5" lengthAdjust="spacingAndGlyphs">Vehicle</text>
<text x="359.8" y="32.2" font-size="20" fill="#000" font-weight="bold" textLength="56.2" lengthAdjust="spacingAndGlyphs">Sales:</text>
<text x="422" y="32.2" font-size="20" fill="#000" font-weight="bold" textLength="58" lengthAdjust="spacingAndGlyphs">Autos</text>
<text x="485.2" y="32.2" font-size="20" fill="#000" font-weight="bold" textLength="16.6" lengthAdjust="spacingAndGlyphs">&amp;</text>
<text x="509" y="32.2" font-size="20" fill="#000" font-weight="bold" textLength="47.2" lengthAdjust="spacingAndGlyphs">Light</text>
<text x="562.4" y="32.2" font-size="20" fill="#000" font-weight="bold" textLength="64.5" lengthAdjust="spacingAndGlyphs">Trucks</text>
<text x="314.2" y="59.8" font-size="18" fill="#000" textLength="89.2" lengthAdjust="spacingAndGlyphs">Seasonally</text>
<text x="410.2" y="59.8" font-size="18" fill="#000" textLength="73.8" lengthAdjust="spacingAndGlyphs">Adjusted</text>
<text x="491.2" y="59.8" font-size="18" fill="#000" textLength="59.2" lengthAdjust="spacingAndGlyphs">Annual</text>
<text x="557.8" y="59.8" font-size="18" fill="#000" textLength="36.8" lengthAdjust="spacingAndGlyphs">Rate</text>
<text x="13.8" y="64.6" font-size="13.1" fill="#000" font-weight="bold" textLength="50.1" lengthAdjust="spacingAndGlyphs">Millions</text>
<text x="13.8" y="82.7" font-size="13.1" fill="#000" font-weight="bold" textLength="47.8" lengthAdjust="spacingAndGlyphs">of Units</text>
<text x="898.7" y="18.8" font-size="12.4" fill="#1f3a78" text-anchor="end" font-weight="bold" textLength="153.3" lengthAdjust="spacingAndGlyphs">advisorperspectives.com</text>
<text x="898.7" y="36.6" font-size="12.4" fill="#1f3a78" text-anchor="end" font-weight="bold" textLength="58.3" lengthAdjust="spacingAndGlyphs">June 2021</text>
<text x="898.7" y="54.4" font-size="12.4" fill="#1f3a78" text-anchor="end" font-weight="bold" textLength="110" lengthAdjust="spacingAndGlyphs">Data through May</text>
<rect x="193" y="78" width="26" height="8" fill="#d0d0d0"/>
<text x="222.5" y="85.9" font-size="13.2" fill="#7f7f7f" font-weight="bold" textLength="61.9" lengthAdjust="spacingAndGlyphs">Recessions</text>
<circle cx="305" cy="82" r="1.6" fill="#c81e28" fill-opacity="0.6"/>
<text x="321.3" y="85.9" font-size="13.2" fill="#c00000" font-weight="bold" textLength="28.9" lengthAdjust="spacingAndGlyphs">Sales</text>
<line x1="358.2" x2="385.6" y1="82" y2="82" stroke="#0000ff" stroke-width="2"/>
<text x="388" y="85.9" font-size="13.2" fill="#0000ff" font-weight="bold" textLength="72" lengthAdjust="spacingAndGlyphs">Nine-Month</text>
<text x="463" y="85.9" font-size="13.2" fill="#0000ff" font-weight="bold" textLength="67.2" lengthAdjust="spacingAndGlyphs">Exponential</text>
<text x="535.2" y="85.9" font-size="13.2" fill="#0000ff" font-weight="bold" textLength="44.6" lengthAdjust="spacingAndGlyphs">Moving</text>
<text x="583.2" y="85.9" font-size="13.2" fill="#0000ff" font-weight="bold" textLength="45.6" lengthAdjust="spacingAndGlyphs">Average</text>
<line x1="637.5" x2="656" y1="81.5" y2="81.5" stroke="#c00000" stroke-width="1.2"/><path d="M661.5 81.5 L654.5 78.3 L654.5 84.7Z" fill="#c00000"/>
<text x="666" y="85.9" font-size="13.2" fill="#c00000" font-weight="bold" textLength="63" lengthAdjust="spacingAndGlyphs">Regression</text>
<text x="40.4" y="108.2" font-size="11.4" fill="#000" text-anchor="end" font-weight="bold" textLength="22.6" lengthAdjust="spacingAndGlyphs">21.5</text>
<text x="40.4" y="183.2" font-size="11.4" fill="#000" text-anchor="end" font-weight="bold" textLength="22.6" lengthAdjust="spacingAndGlyphs">19.5</text>
<text x="40.4" y="257.2" font-size="11.4" fill="#000" text-anchor="end" font-weight="bold" textLength="22.6" lengthAdjust="spacingAndGlyphs">17.5</text>
<text x="40.4" y="332.2" font-size="11.4" fill="#000" text-anchor="end" font-weight="bold" textLength="22.6" lengthAdjust="spacingAndGlyphs">15.5</text>
<text x="40.4" y="406.2" font-size="11.4" fill="#000" text-anchor="end" font-weight="bold" textLength="22.6" lengthAdjust="spacingAndGlyphs">13.5</text>
<text x="40.4" y="481.2" font-size="11.4" fill="#000" text-anchor="end" font-weight="bold" textLength="22.6" lengthAdjust="spacingAndGlyphs">11.5</text>
<text x="40.4" y="555.2" font-size="11.4" fill="#000" text-anchor="end" font-weight="bold" textLength="16.2" lengthAdjust="spacingAndGlyphs">9.5</text>
<text x="40.4" y="630.2" font-size="11.4" fill="#000" text-anchor="end" font-weight="bold" textLength="16.2" lengthAdjust="spacingAndGlyphs">7.5</text>
<text x="54.5" y="648" font-size="10.9" fill="#000" text-anchor="middle" textLength="25.7" lengthAdjust="spacingAndGlyphs">1975</text>
<text x="141.5" y="648" font-size="10.9" fill="#000" text-anchor="middle" textLength="25.7" lengthAdjust="spacingAndGlyphs">1980</text>
<text x="227.5" y="648" font-size="10.9" fill="#000" text-anchor="middle" textLength="25.7" lengthAdjust="spacingAndGlyphs">1985</text>
<text x="314.5" y="648" font-size="10.9" fill="#000" text-anchor="middle" textLength="25.7" lengthAdjust="spacingAndGlyphs">1990</text>
<text x="401.5" y="648" font-size="10.9" fill="#000" text-anchor="middle" textLength="25.7" lengthAdjust="spacingAndGlyphs">1995</text>
<text x="488.5" y="648" font-size="10.9" fill="#000" text-anchor="middle" textLength="25.7" lengthAdjust="spacingAndGlyphs">2000</text>
<text x="575.5" y="648" font-size="10.9" fill="#000" text-anchor="middle" textLength="25.7" lengthAdjust="spacingAndGlyphs">2005</text>
<text x="662.5" y="648" font-size="10.9" fill="#000" text-anchor="middle" textLength="25.7" lengthAdjust="spacingAndGlyphs">2010</text>
<text x="749.5" y="648" font-size="10.9" fill="#000" text-anchor="middle" textLength="25.7" lengthAdjust="spacingAndGlyphs">2015</text>
<text x="835.5" y="648" font-size="10.9" fill="#000" text-anchor="middle" textLength="25.7" lengthAdjust="spacingAndGlyphs">2020</text>
<circle cx="21.3" cy="21.4" r="8.8" fill="none" stroke="#b8963c" stroke-width="1.6"/>
<path d="M21.30 11.10 L23.56 19.14 L31.60 21.40 L23.56 23.66 L21.30 31.70 L19.04 23.66 L11.00 21.40 L19.04 19.14Z M25.54 17.16 L24.10 21.40 L25.54 25.64 L21.30 24.20 L17.06 25.64 L18.50 21.40 L17.06 17.16 L21.30 18.60Z" fill="#7b1113"/>
<circle cx="21.3" cy="21.4" r="3.3" fill="#7b1113"/>
<text x="33.3" y="20.4" font-size="13.7" fill="#7b1113" font-weight="bold" textLength="61.6" lengthAdjust="spacingAndGlyphs">ADVISOR</text>
<text x="33.3" y="31.4" font-size="12.4" fill="#b0924a" stroke="#b0924a" stroke-width="0.2" textLength="93.7" lengthAdjust="spacingAndGlyphs">PERSPECTIVES</text>
</svg></body></html>
